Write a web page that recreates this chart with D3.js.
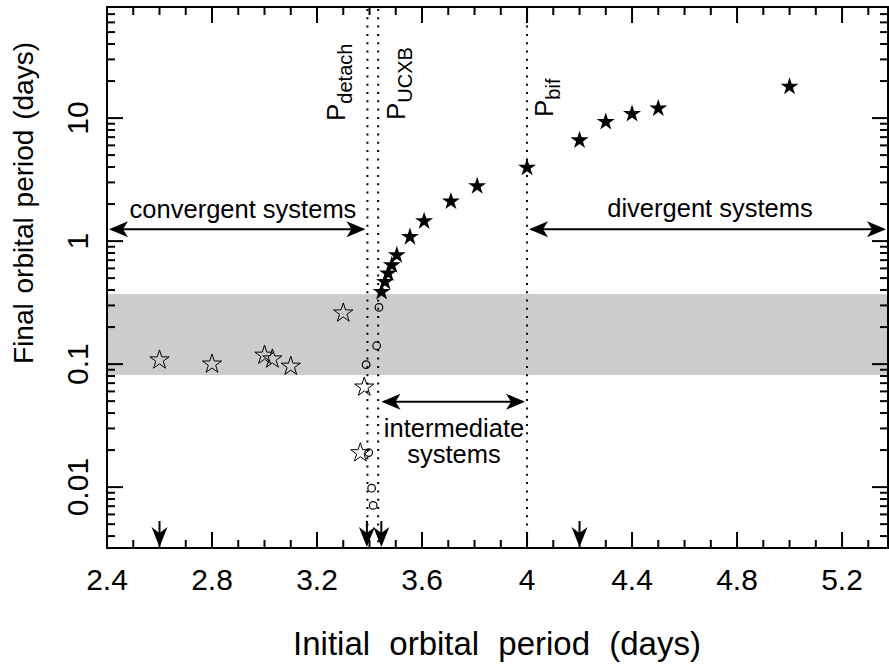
<!DOCTYPE html>
<html lang="en">
<head>
    <meta charset="UTF-8" />
    <title>Final vs initial orbital period</title>
    <script src="https://d3js.org/d3.v7.js"></script>
    <style>
        body { margin: 0; background: #fff; }
        text { font-family: "Liberation Sans", Arial, sans-serif; fill: #000; }
    </style>
</head>
<body>
    <script>
        var w = 889;
        var h = 664;

        // convergent systems (open stars)
        var convX = [2.6, 2.8, 3.0, 3.03, 3.1, 3.3, 3.38, 3.365];
        var convY = [0.108, 0.1, 0.118, 0.11, 0.096, 0.26, 0.065, 0.019];
        // open circles
        var circX = [3.436, 3.427, 3.387, 3.397, 3.408, 3.414];
        var circY = [0.289, 0.141, 0.099, 0.0191, 0.0098, 0.0071];
        // filled stars
        var fillX = [3.446, 3.459, 3.471, 3.485, 3.504, 3.554, 3.608, 3.71, 3.81, 4.0, 4.2, 4.3, 4.4, 4.5, 5.0];
        var fillY = [0.387, 0.466, 0.546, 0.638, 0.77, 1.08, 1.45, 2.1, 2.8, 3.95, 6.6, 9.3, 10.8, 12.0, 18.0];

        var pDetach = 3.392, pUCXB = 3.433, pBif = 4.0;
        var downArrows = [2.6, 3.39, 3.445, 4.2];
        var band = [0.0815, 0.371];

        var xTicks = [2.4, 2.8, 3.2, 3.6, 4, 4.4, 4.8, 5.2];
        var xTickLabels = ["2.4", "2.8", "3.2", "3.6", "4", "4.4", "4.8", "5.2"];
        var yTicks = [0.01, 0.1, 1, 10];
        var yTickLabels = ["0.01", "0.1", "1", "10"];

        // plot box (window.top is reserved, so use other names)
        var pL = 107, pR = 888, pT = 7, pB = 548;

        var svg = d3.select("body")
            .append("svg")
            .attr("width", w)
            .attr("height", h);

        var xScale = d3.scaleLinear().domain([2.4, 5.375]).range([pL, pR]);
        var yScale = d3.scaleLog().domain([0.0032, 80]).range([pB, pT]);

        // grey band
        svg.append("rect")
            .attr("x", pL)
            .attr("y", yScale(band[1]))
            .attr("width", pR - pL)
            .attr("height", yScale(band[0]) - yScale(band[1]))
            .attr("fill", "#cccccc");

        // dotted verticals
        [pDetach, pUCXB, pBif].forEach(function (p) {
            svg.append("line")
                .attr("x1", xScale(p)).attr("x2", xScale(p))
                .attr("y1", pT + 2).attr("y2", pB)
                .attr("stroke", "#000")
                .attr("stroke-width", 2)
                .attr("stroke-dasharray", "2 6.3");
        });

        // ticks
        var xMinor = d3.range(24, 54).map(function (d) { return d / 10; });
        var yMinor = [];
        [0.001, 0.01, 0.1, 1, 10].forEach(function (dec) {
            for (var k = 1; k < 10; k++) {
                var v = dec * k;
                if (v >= 0.0032 && v <= 80) yMinor.push(v);
            }
        });

        var tk = svg.append("g").attr("stroke", "#000").attr("stroke-width", 2);
        xMinor.forEach(function (v, i) {
            var len = (i % 4 == 0) ? 16 : 8;
            tk.append("line").attr("x1", xScale(v)).attr("x2", xScale(v))
                .attr("y1", pB).attr("y2", pB - len);
            tk.append("line").attr("x1", xScale(v)).attr("x2", xScale(v))
                .attr("y1", pT).attr("y2", pT + len);
        });
        yMinor.forEach(function (v) {
            var major = yTicks.indexOf(+v.toPrecision(3)) >= 0;
            var len = major ? 16 : 8;
            tk.append("line").attr("x1", pL).attr("x2", pL + len)
                .attr("y1", yScale(v)).attr("y2", yScale(v));
            tk.append("line").attr("x1", pR).attr("x2", pR - len)
                .attr("y1", yScale(v)).attr("y2", yScale(v));
        });

        // frame
        svg.append("rect")
            .attr("x", pL).attr("y", pT)
            .attr("width", pR - pL).attr("height", pB - pT)
            .attr("fill", "none").attr("stroke", "#000").attr("stroke-width", 2);

        // tick labels
        svg.selectAll(".xl")
            .data(xTicks)
            .enter()
            .append("text")
            .attr("x", function (d) { return xScale(d); })
            .attr("y", 590)
            .attr("text-anchor", "middle")
            .attr("font-size", 30)
            .text(function (d, i) { return xTickLabels[i]; });

        svg.selectAll(".yl")
            .data(yTicks)
            .enter()
            .append("text")
            .attr("transform", function (d) { return "translate(88," + yScale(d) + ") rotate(-90)"; })
            .attr("text-anchor", "middle")
            .attr("font-size", 30)
            .text(function (d, i) { return yTickLabels[i]; });

        // axis titles
        svg.append("text")
            .attr("x", 497).attr("y", 655)
            .attr("text-anchor", "middle")
            .attr("font-size", 33)
            .attr("word-spacing", 10)
            .text("Initial orbital period (days)");
        svg.append("text")
            .attr("transform", "translate(33,203) rotate(-90)")
            .attr("text-anchor", "middle")
            .attr("font-size", 28)
            .attr("word-spacing", 2)
            .text("Final orbital period (days)");

        // arrowhead helper
        function head(tx, ty, dx, dy, L, W, N) {
            var nx = -dy, ny = dx;
            var pts = [
                [tx, ty],
                [tx - L * dx + W * nx, ty - L * dy + W * ny],
                [tx - (L - N) * dx, ty - (L - N) * dy],
                [tx - L * dx - W * nx, ty - L * dy - W * ny]
            ];
            svg.append("path")
                .attr("d", "M" + pts.join("L") + "Z")
                .attr("fill", "#000");
        }
        function hArrow(x1, x2, yv) {
            var yy = yScale(yv);
            svg.append("line")
                .attr("x1", xScale(x1) + 4).attr("x2", xScale(x2) - 4)
                .attr("y1", yy).attr("y2", yy)
                .attr("stroke", "#000").attr("stroke-width", 2);
            head(xScale(x1) + 2, yy, -1, 0, 19, 8, 5);
            head(xScale(x2) - 2, yy, 1, 0, 19, 8, 5);
        }
        hArrow(2.4, pDetach, 1.25);
        hArrow(pBif, 5.375, 1.25);
        hArrow(pUCXB + 0.005, pBif, 0.0494);

        // down arrows on x axis
        downArrows.forEach(function (v) {
            svg.append("line")
                .attr("x1", xScale(v)).attr("x2", xScale(v))
                .attr("y1", 521).attr("y2", pB - 6)
                .attr("stroke", "#000").attr("stroke-width", 2);
            head(xScale(v), pB - 1, 0, 1, 20, 8, 6);
        });

        // region labels
        svg.append("text").attr("x", 243).attr("y", 218)
            .attr("text-anchor", "middle").attr("font-size", 25.5)
            .text("convergent systems");
        svg.append("text").attr("x", 710).attr("y", 217)
            .attr("text-anchor", "middle").attr("font-size", 25.5)
            .text("divergent systems");
        svg.append("text").attr("x", 454).attr("y", 437)
            .attr("text-anchor", "middle").attr("font-size", 25.5)
            .text("intermediate");
        svg.append("text").attr("x", 454).attr("y", 463)
            .attr("text-anchor", "middle").attr("font-size", 25.5)
            .text("systems");

        // period labels
        function pLabel(xp, yp, sub) {
            var t = svg.append("text")
                .attr("transform", "translate(" + xp + "," + yp + ") rotate(-90)")
                .attr("font-size", 26);
            t.append("tspan").text("P");
            t.append("tspan").attr("font-size", 20).attr("dy", 7).text(sub);
        }
        pLabel(345, 121, "detach");
        pLabel(405, 120, "UCXB");
        pLabel(553, 117, "bif");

        // symbols
        var starBig = d3.symbol().type(d3.symbolStar).size(115);
        var starFill = d3.symbol().type(d3.symbolStar).size(100);

        svg.selectAll(".conv")
            .data(convX)
            .enter()
            .append("path")
            .attr("d", starBig)
            .attr("transform", function (d, i) { return "translate(" + xScale(d) + "," + yScale(convY[i]) + ")"; })
            .attr("fill", "none")
            .attr("stroke", "#000")
            .attr("stroke-width", 1);

        svg.selectAll(".circ")
            .data(circX)
            .enter()
            .append("circle")
            .attr("cx", function (d) { return xScale(d); })
            .attr("cy", function (d, i) { return yScale(circY[i]); })
            .attr("r", 3.8)
            .attr("fill", "none")
            .attr("stroke", "#000")
            .attr("stroke-width", 1.2);

        svg.selectAll(".div")
            .data(fillX)
            .enter()
            .append("path")
            .attr("d", starFill)
            .attr("transform", function (d, i) { return "translate(" + xScale(d) + "," + yScale(fillY[i]) + ")"; })
            .attr("fill", "#000");
    </script>
</body>
</html>
